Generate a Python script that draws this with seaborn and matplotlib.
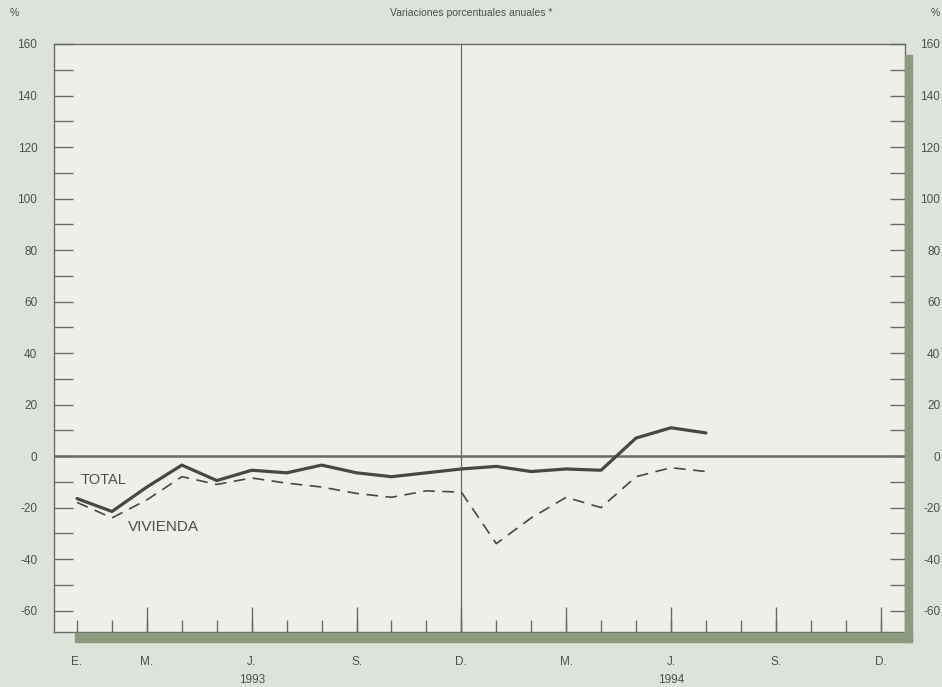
import pandas as pd
import seaborn as sns
import matplotlib.pyplot as plt
from matplotlib.patches import Rectangle
from matplotlib.ticker import MultipleLocator
import matplotlib.transforms as mtransforms

# Monthly series, Jan 1993 (0) .. Jul 1994 (18)
months = list(range(19))
total = [-16.5, -21.5, -12, -3.5, -9.5, -5.5, -6.5, -3.5, -6.5, -8, -6.5, -5,
         -4, -6, -5, -5.5, 7, 11, 9]
vivienda = [-18, -24, -17, -8, -11, -8.5, -10.5, -12, -14.5, -16, -13.5, -14,
            -34, -24, -16, -20, -8, -4.5, -6]

month_ticks = list(range(24))
label_pos = [0, 2, 5, 8, 11, 14, 17, 20, 23]
label_txt = ['E.', 'M.', 'J.', 'S.', 'D.', 'M.', 'J.', 'S.', 'D.']
quarter_pos = [2, 5, 8, 11, 14, 17, 20, 23]
years = ['1993', '1994']
year_pos = [5, 17]
y_ticks = list(range(-60, 161, 20))

bg_out = '#dde3da'
bg_in = '#eeefe9'
green = '#8c9b7d'
ink = '#4f4f4f'
line_col = '#474747'
axis_col = '#6a6a6a'

sns.set_style('white')
plt.rcParams['font.family'] = ['Liberation Sans', 'DejaVu Sans']

fig = plt.figure(figsize=(9.42, 6.87), dpi=100, facecolor=bg_out)
W, H = 942, 687
ax = fig.add_axes([54 / W, 1 - 632 / H, (905 - 54) / W, (632 - 44) / H])
ax.set_facecolor(bg_in)

df = pd.DataFrame({'mes': months, 'TOTAL': total, 'VIVIENDA': vivienda})
sns.lineplot(data=df, x='mes', y='TOTAL', ax=ax, color=line_col, linewidth=2.3)
sns.lineplot(data=df, x='mes', y='VIVIENDA', ax=ax, color=line_col, linewidth=1.2,
             linestyle=(0, (7, 4.5)))

ax.axhline(0, color=axis_col, linewidth=1.8, zorder=1)
ax.axvline(11, color=axis_col, linewidth=0.9, zorder=1)

ax.set_xlim(-0.66, 23.7)
ax.set_ylim(-68.3, 160)
ax.set_xlabel('')
ax.set_ylabel('')

for s in ax.spines.values():
    s.set_color(axis_col)
    s.set_linewidth(1.0)

# y axis, left
ax.yaxis.set_minor_locator(MultipleLocator(10))
ax.set_yticks(y_ticks)
ax.set_yticklabels([str(v) for v in y_ticks])
ax.tick_params(axis='y', which='both', left=True, direction='in', length=14,
               width=1, color=axis_col, labelsize=8.5, labelcolor=ink, pad=12)

# y axis, right
axr = ax.twinx()
axr.set_ylim(ax.get_ylim())
axr.yaxis.set_minor_locator(MultipleLocator(10))
axr.set_yticks(y_ticks)
axr.set_yticklabels([str(v) for v in y_ticks])
axr.tick_params(axis='y', which='both', right=True, direction='in', length=11,
                width=1, color=axis_col, labelsize=8.5, labelcolor=ink, pad=25.3)
for lab in axr.get_yticklabels():
    lab.set_horizontalalignment('right')
for s in axr.spines.values():
    s.set_visible(False)

# x axis
ax.xaxis.remove_overlapping_locs = False
ax.set_xticks(month_ticks)
ax.set_xticklabels([label_txt[label_pos.index(m)] if m in label_pos else ''
                    for m in month_ticks])
ax.set_xticks(quarter_pos, minor=True)
ax.tick_params(axis='x', which='major', bottom=True, direction='in', length=9,
               width=1, color=axis_col, labelsize=8.5, labelcolor=ink, pad=17)
ax.tick_params(axis='x', which='minor', bottom=True, direction='in', length=18,
               width=1, color=axis_col)

trans = mtransforms.blended_transform_factory(ax.transData, fig.transFigure)
for yp, yt in zip(year_pos, years):
    ax.text(yp, 1 - 680 / H, yt, transform=trans, ha='center', va='center',
            fontsize=8.5, color=ink, clip_on=False)

# series labels
ax.text(0.1, -9.3, 'TOTAL', fontsize=10.5, color=ink, va='center', ha='left')
ax.text(1.46, -27.5, 'VIVIENDA', fontsize=11, color=ink, va='center', ha='left')

# shadow bars
fig.add_artist(Rectangle((75 / W, 1 - 642 / H), (912 - 75) / W, 9 / H,
                         transform=fig.transFigure, color=green, zorder=0.5))
fig.add_artist(Rectangle((905 / W, 1 - 642 / H), 7 / W, (642 - 55) / H,
                         transform=fig.transFigure, color=green, zorder=0.5))

fig.text(471 / W, 1 - 13 / H, 'Variaciones porcentuales anuales *', ha='center',
         va='center', fontsize=7.5, color=ink)
fig.text(14 / W, 1 - 13 / H, '%', ha='center', va='center', fontsize=7.5, color=ink)
fig.text(935 / W, 1 - 13 / H, '%', ha='center', va='center', fontsize=7.5, color=ink)

fig.savefig('out.png', dpi=100, facecolor=bg_out)
